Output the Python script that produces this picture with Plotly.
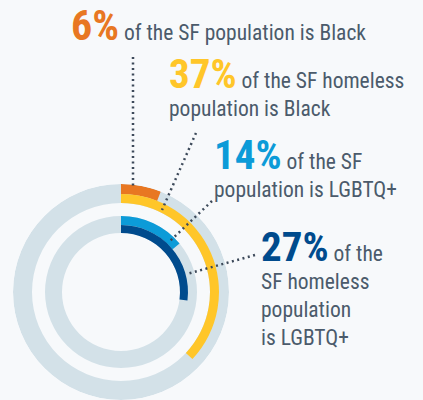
import plotly.graph_objects as go

W, H = 423, 400

# data
labels = ["SF population Black", "SF homeless Black", "SF population LGBTQ+", "SF homeless LGBTQ+"]
values = [6, 37, 14, 27]
colors = ["#E87722", "#FFC629", "#0C9BD8", "#004B8D"]
big_text = ["6%", "37%", "14%", "27%"]
rest_text = [
    "of the SF population is Black",
    "of the SF homeless<br>population is Black",
    "of the SF<br>population is LGBTQ+",
    "of the<br>SF homeless<br>population<br>is LGBTQ+",
]

BG = "#F7F9FB"
TRACK = "#D3E1E8"
TXT = "#4B5B6B"
DOT = "#3D4A5A"

# ring geometry (radial units)
bases = [98, 89, 67, 59]
thick = [10, 9, 9, 8]
track_base = [89, 59]
track_thick = [19, 17]

fig = go.Figure()
for b, t in zip(track_base, track_thick):
    fig.add_trace(go.Barpolar(theta=[180], width=[360], base=[b], r=[t],
                              marker=dict(color=TRACK, line=dict(width=0)),
                              hoverinfo="skip", showlegend=False))
for lab, v, c, b, t in zip(labels, values, colors, bases, thick):
    fig.add_trace(go.Barpolar(theta=[v * 3.6 / 2], width=[v * 3.6], base=[b], r=[t],
                              marker=dict(color=c, line=dict(width=0)),
                              name=lab, showlegend=False))

cx, cy, R = 121, 292, 108
fig.update_layout(
    width=W, height=H,
    margin=dict(l=0, r=0, t=0, b=0),
    paper_bgcolor=BG, plot_bgcolor=BG,
    polar=dict(
        domain=dict(x=[(cx - R) / W, (cx + R) / W], y=[1 - (cy + R) / H, 1 - (cy - R) / H]),
        bgcolor="rgba(0,0,0,0)",
        radialaxis=dict(range=[0, R], visible=False, showgrid=False),
        angularaxis=dict(direction="clockwise", rotation=90, visible=False, showgrid=False),
        barmode="overlay",
    ),
)

def px(x):
    return x / W

def py(y):
    return 1 - y / H

# leader lines (pixel endpoints)
leaders = [
    ((133, 57), (133, 187)),
    ((196, 133), (162, 210)),
    ((212, 201), (170, 241)),
    ((255, 255), (187, 274)),
]
for (x0, y0), (x1, y1) in leaders:
    fig.add_shape(type="line", xref="paper", yref="paper",
                  x0=px(x0), y0=py(y0), x1=px(x1), y1=py(y1),
                  line=dict(color=DOT, width=2.5, dash="2px,3.5px"))

FONT = "Liberation Sans Narrow, Roboto Condensed, DejaVu Sans Condensed, Roboto"
big_sizes = [42, 41, 41, 41]
pos = [(70, 0), (168, 49), (213, 130), (260, 222)]
for bt, rt, c, s, (x, y) in zip(big_text, rest_text, colors, big_sizes, pos):
    txt = f"<span style='font-size:{s}px;color:{c}'><b>{bt}</b></span> {rt}"
    fig.add_annotation(text=txt, xref="paper", yref="paper", x=px(x), y=py(y),
                       xanchor="left", yanchor="top", showarrow=False, align="left",
                       borderpad=0,
                       font=dict(family=FONT, size=21.5, color=TXT))

fig.write_html("out.html")
